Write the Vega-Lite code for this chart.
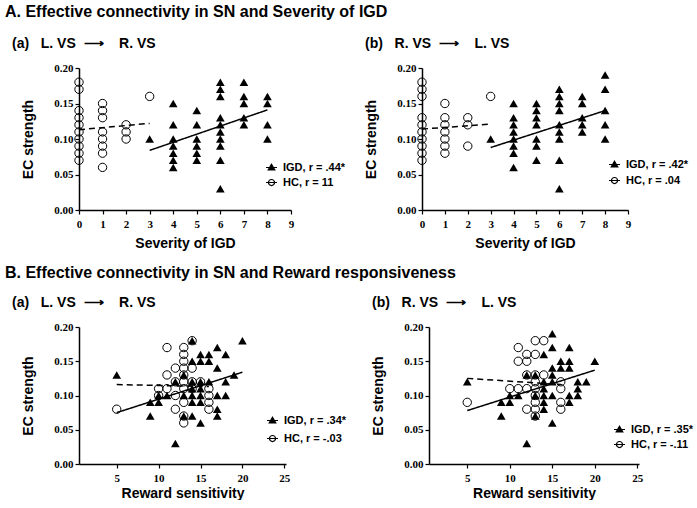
{
  "$schema": "https://vega.github.io/schema/vega-lite/v6.json",
  "padding": {"left": 5, "top": 4, "right": 0, "bottom": 0},
  "background": "white",
  "config": {
    "view": {"stroke": null},
    "font": "Liberation Sans",
    "axis": {
      "grid": false,
      "domainColor": "black",
      "domainWidth": 1.5,
      "tickColor": "black",
      "tickWidth": 1.2,
      "tickSize": 4,
      "labelFont": "Liberation Serif",
      "labelFontWeight": "bold",
      "labelFontSize": 11,
      "labelColor": "black",
      "labelOverlap": false,
      "labelSeparation": -100,
      "labelFlush": false,
      "labelBound": false,
      "titleFont": "Liberation Sans",
      "titleFontWeight": "bold",
      "titleFontSize": 14,
      "titleColor": "black"
    },
    "legend": {
      "labelFont": "Liberation Sans",
      "labelFontWeight": "bold",
      "labelFontSize": 11,
      "labelColor": "black",
      "symbolStrokeColor": "black",
      "symbolStrokeWidth": 1.2,
      "symbolOpacity": 1,
      "symbolSize": 121,
      "labelOffset": 5
    },
    "title": {"font": "Liberation Sans", "fontWeight": "bold", "color": "black"}
  },
  "datasets": {
    "pts": [
      {"p":"Aa","g":"HC","x":0,"y":0.18},{"p":"Aa","g":"HC","x":0,"y":0.17},{"p":"Aa","g":"HC","x":0,"y":0.14},{"p":"Aa","g":"HC","x":0,"y":0.13},{"p":"Aa","g":"HC","x":0,"y":0.12},{"p":"Aa","g":"HC","x":0,"y":0.11},{"p":"Aa","g":"HC","x":0,"y":0.10},{"p":"Aa","g":"HC","x":0,"y":0.09},{"p":"Aa","g":"HC","x":0,"y":0.08},{"p":"Aa","g":"HC","x":0,"y":0.07},
      {"p":"Aa","g":"HC","x":1,"y":0.15},{"p":"Aa","g":"HC","x":1,"y":0.14},{"p":"Aa","g":"HC","x":1,"y":0.13},{"p":"Aa","g":"HC","x":1,"y":0.11},{"p":"Aa","g":"HC","x":1,"y":0.10},{"p":"Aa","g":"HC","x":1,"y":0.09},{"p":"Aa","g":"HC","x":1,"y":0.08},{"p":"Aa","g":"HC","x":1,"y":0.06},
      {"p":"Aa","g":"HC","x":2,"y":0.12},{"p":"Aa","g":"HC","x":2,"y":0.11},{"p":"Aa","g":"HC","x":2,"y":0.10},{"p":"Aa","g":"HC","x":3,"y":0.16},
      {"p":"Aa","g":"IGD","x":3,"y":0.10},
      {"p":"Aa","g":"IGD","x":4,"y":0.15},{"p":"Aa","g":"IGD","x":4,"y":0.12},{"p":"Aa","g":"IGD","x":4,"y":0.10},{"p":"Aa","g":"IGD","x":4,"y":0.09},{"p":"Aa","g":"IGD","x":4,"y":0.08},{"p":"Aa","g":"IGD","x":4,"y":0.07},{"p":"Aa","g":"IGD","x":4,"y":0.06},
      {"p":"Aa","g":"IGD","x":5,"y":0.14},{"p":"Aa","g":"IGD","x":5,"y":0.12},{"p":"Aa","g":"IGD","x":5,"y":0.10},{"p":"Aa","g":"IGD","x":5,"y":0.09},{"p":"Aa","g":"IGD","x":5,"y":0.08},{"p":"Aa","g":"IGD","x":5,"y":0.07},
      {"p":"Aa","g":"IGD","x":6,"y":0.18},{"p":"Aa","g":"IGD","x":6,"y":0.17},{"p":"Aa","g":"IGD","x":6,"y":0.16},{"p":"Aa","g":"IGD","x":6,"y":0.13},{"p":"Aa","g":"IGD","x":6,"y":0.12},{"p":"Aa","g":"IGD","x":6,"y":0.11},{"p":"Aa","g":"IGD","x":6,"y":0.10},{"p":"Aa","g":"IGD","x":6,"y":0.09},{"p":"Aa","g":"IGD","x":6,"y":0.07},{"p":"Aa","g":"IGD","x":6,"y":0.03},
      {"p":"Aa","g":"IGD","x":7,"y":0.18},{"p":"Aa","g":"IGD","x":7,"y":0.16},{"p":"Aa","g":"IGD","x":7,"y":0.15},{"p":"Aa","g":"IGD","x":7,"y":0.13},{"p":"Aa","g":"IGD","x":7,"y":0.12},
      {"p":"Aa","g":"IGD","x":8,"y":0.16},{"p":"Aa","g":"IGD","x":8,"y":0.15},{"p":"Aa","g":"IGD","x":8,"y":0.12},{"p":"Aa","g":"IGD","x":8,"y":0.10},

      {"p":"Ab","g":"HC","x":0,"y":0.18},{"p":"Ab","g":"HC","x":0,"y":0.17},{"p":"Ab","g":"HC","x":0,"y":0.16},{"p":"Ab","g":"HC","x":0,"y":0.13},{"p":"Ab","g":"HC","x":0,"y":0.12},{"p":"Ab","g":"HC","x":0,"y":0.11},{"p":"Ab","g":"HC","x":0,"y":0.10},{"p":"Ab","g":"HC","x":0,"y":0.09},{"p":"Ab","g":"HC","x":0,"y":0.08},{"p":"Ab","g":"HC","x":0,"y":0.07},
      {"p":"Ab","g":"HC","x":1,"y":0.15},{"p":"Ab","g":"HC","x":1,"y":0.13},{"p":"Ab","g":"HC","x":1,"y":0.12},{"p":"Ab","g":"HC","x":1,"y":0.11},{"p":"Ab","g":"HC","x":1,"y":0.10},{"p":"Ab","g":"HC","x":1,"y":0.09},{"p":"Ab","g":"HC","x":1,"y":0.08},
      {"p":"Ab","g":"HC","x":2,"y":0.13},{"p":"Ab","g":"HC","x":2,"y":0.12},{"p":"Ab","g":"HC","x":2,"y":0.09},{"p":"Ab","g":"HC","x":3,"y":0.16},
      {"p":"Ab","g":"IGD","x":3,"y":0.10},
      {"p":"Ab","g":"IGD","x":4,"y":0.15},{"p":"Ab","g":"IGD","x":4,"y":0.13},{"p":"Ab","g":"IGD","x":4,"y":0.12},{"p":"Ab","g":"IGD","x":4,"y":0.11},{"p":"Ab","g":"IGD","x":4,"y":0.10},{"p":"Ab","g":"IGD","x":4,"y":0.09},{"p":"Ab","g":"IGD","x":4,"y":0.08},{"p":"Ab","g":"IGD","x":4,"y":0.06},
      {"p":"Ab","g":"IGD","x":5,"y":0.15},{"p":"Ab","g":"IGD","x":5,"y":0.14},{"p":"Ab","g":"IGD","x":5,"y":0.13},{"p":"Ab","g":"IGD","x":5,"y":0.12},{"p":"Ab","g":"IGD","x":5,"y":0.10},{"p":"Ab","g":"IGD","x":5,"y":0.09},{"p":"Ab","g":"IGD","x":5,"y":0.07},
      {"p":"Ab","g":"IGD","x":6,"y":0.17},{"p":"Ab","g":"IGD","x":6,"y":0.16},{"p":"Ab","g":"IGD","x":6,"y":0.15},{"p":"Ab","g":"IGD","x":6,"y":0.14},{"p":"Ab","g":"IGD","x":6,"y":0.12},{"p":"Ab","g":"IGD","x":6,"y":0.11},{"p":"Ab","g":"IGD","x":6,"y":0.10},{"p":"Ab","g":"IGD","x":6,"y":0.07},{"p":"Ab","g":"IGD","x":6,"y":0.03},
      {"p":"Ab","g":"IGD","x":7,"y":0.16},{"p":"Ab","g":"IGD","x":7,"y":0.15},{"p":"Ab","g":"IGD","x":7,"y":0.13},{"p":"Ab","g":"IGD","x":7,"y":0.12},{"p":"Ab","g":"IGD","x":7,"y":0.11},
      {"p":"Ab","g":"IGD","x":8,"y":0.19},{"p":"Ab","g":"IGD","x":8,"y":0.17},{"p":"Ab","g":"IGD","x":8,"y":0.14},{"p":"Ab","g":"IGD","x":8,"y":0.12},{"p":"Ab","g":"IGD","x":8,"y":0.10},

      {"p":"Ba","g":"HC","x":5,"y":0.08},{"p":"Ba","g":"HC","x":10,"y":0.11},{"p":"Ba","g":"HC","x":10,"y":0.10},{"p":"Ba","g":"HC","x":11,"y":0.17},{"p":"Ba","g":"HC","x":11,"y":0.13},{"p":"Ba","g":"HC","x":11,"y":0.11},
      {"p":"Ba","g":"HC","x":12,"y":0.14},{"p":"Ba","g":"HC","x":12,"y":0.12},{"p":"Ba","g":"HC","x":12,"y":0.10},{"p":"Ba","g":"HC","x":12,"y":0.08},
      {"p":"Ba","g":"HC","x":13,"y":0.17},{"p":"Ba","g":"HC","x":13,"y":0.16},{"p":"Ba","g":"HC","x":13,"y":0.15},{"p":"Ba","g":"HC","x":13,"y":0.14},{"p":"Ba","g":"HC","x":13,"y":0.13},{"p":"Ba","g":"HC","x":13,"y":0.12},{"p":"Ba","g":"HC","x":13,"y":0.11},{"p":"Ba","g":"HC","x":13,"y":0.09},{"p":"Ba","g":"HC","x":13,"y":0.07},{"p":"Ba","g":"HC","x":13,"y":0.06},
      {"p":"Ba","g":"HC","x":14,"y":0.18},{"p":"Ba","g":"HC","x":14,"y":0.14},{"p":"Ba","g":"HC","x":14,"y":0.12},{"p":"Ba","g":"HC","x":14,"y":0.11},{"p":"Ba","g":"HC","x":15,"y":0.12},
      {"p":"Ba","g":"HC","x":16,"y":0.11},{"p":"Ba","g":"HC","x":16,"y":0.10},{"p":"Ba","g":"HC","x":16,"y":0.09},{"p":"Ba","g":"HC","x":16,"y":0.08},
      {"p":"Ba","g":"IGD","x":5,"y":0.13},{"p":"Ba","g":"IGD","x":9,"y":0.09},{"p":"Ba","g":"IGD","x":9,"y":0.07},{"p":"Ba","g":"IGD","x":10,"y":0.10},{"p":"Ba","g":"IGD","x":10,"y":0.09},{"p":"Ba","g":"IGD","x":11,"y":0.10},
      {"p":"Ba","g":"IGD","x":12,"y":0.12},{"p":"Ba","g":"IGD","x":12,"y":0.03},{"p":"Ba","g":"IGD","x":13,"y":0.13},{"p":"Ba","g":"IGD","x":13,"y":0.10},{"p":"Ba","g":"IGD","x":13,"y":0.07},
      {"p":"Ba","g":"IGD","x":14,"y":0.18},{"p":"Ba","g":"IGD","x":14,"y":0.15},{"p":"Ba","g":"IGD","x":14,"y":0.12},{"p":"Ba","g":"IGD","x":14,"y":0.11},{"p":"Ba","g":"IGD","x":14,"y":0.10},{"p":"Ba","g":"IGD","x":14,"y":0.09},{"p":"Ba","g":"IGD","x":14,"y":0.07},
      {"p":"Ba","g":"IGD","x":15,"y":0.16},{"p":"Ba","g":"IGD","x":15,"y":0.15},{"p":"Ba","g":"IGD","x":15,"y":0.12},{"p":"Ba","g":"IGD","x":15,"y":0.11},{"p":"Ba","g":"IGD","x":15,"y":0.10},{"p":"Ba","g":"IGD","x":15,"y":0.09},{"p":"Ba","g":"IGD","x":15,"y":0.06},
      {"p":"Ba","g":"IGD","x":16,"y":0.16},{"p":"Ba","g":"IGD","x":16,"y":0.15},{"p":"Ba","g":"IGD","x":16,"y":0.12},
      {"p":"Ba","g":"IGD","x":17,"y":0.17},{"p":"Ba","g":"IGD","x":17,"y":0.14},{"p":"Ba","g":"IGD","x":17,"y":0.10},{"p":"Ba","g":"IGD","x":17,"y":0.08},{"p":"Ba","g":"IGD","x":17,"y":0.07},
      {"p":"Ba","g":"IGD","x":18,"y":0.16},{"p":"Ba","g":"IGD","x":18,"y":0.12},{"p":"Ba","g":"IGD","x":18,"y":0.10},{"p":"Ba","g":"IGD","x":19,"y":0.13},{"p":"Ba","g":"IGD","x":20,"y":0.18},

      {"p":"Bb","g":"HC","x":5,"y":0.09},{"p":"Bb","g":"HC","x":13,"y":0.18},{"p":"Bb","g":"HC","x":14,"y":0.18},{"p":"Bb","g":"HC","x":11,"y":0.17},{"p":"Bb","g":"HC","x":12,"y":0.16},{"p":"Bb","g":"HC","x":13,"y":0.16},
      {"p":"Bb","g":"HC","x":11,"y":0.15},{"p":"Bb","g":"HC","x":12,"y":0.15},{"p":"Bb","g":"HC","x":12,"y":0.13},{"p":"Bb","g":"HC","x":13,"y":0.13},{"p":"Bb","g":"HC","x":14,"y":0.13},
      {"p":"Bb","g":"HC","x":13,"y":0.12},{"p":"Bb","g":"HC","x":16,"y":0.12},{"p":"Bb","g":"HC","x":10,"y":0.11},{"p":"Bb","g":"HC","x":11,"y":0.11},{"p":"Bb","g":"HC","x":12,"y":0.11},{"p":"Bb","g":"HC","x":13,"y":0.11},{"p":"Bb","g":"HC","x":16,"y":0.11},
      {"p":"Bb","g":"HC","x":13,"y":0.10},{"p":"Bb","g":"HC","x":13,"y":0.09},{"p":"Bb","g":"HC","x":16,"y":0.09},{"p":"Bb","g":"HC","x":12,"y":0.08},{"p":"Bb","g":"HC","x":13,"y":0.08},{"p":"Bb","g":"HC","x":16,"y":0.08},{"p":"Bb","g":"HC","x":13,"y":0.07},
      {"p":"Bb","g":"IGD","x":5,"y":0.12},{"p":"Bb","g":"IGD","x":15,"y":0.19},{"p":"Bb","g":"IGD","x":15,"y":0.17},{"p":"Bb","g":"IGD","x":17,"y":0.17},{"p":"Bb","g":"IGD","x":14,"y":0.16},
      {"p":"Bb","g":"IGD","x":16,"y":0.15},{"p":"Bb","g":"IGD","x":17,"y":0.15},{"p":"Bb","g":"IGD","x":20,"y":0.15},{"p":"Bb","g":"IGD","x":15,"y":0.14},{"p":"Bb","g":"IGD","x":16,"y":0.14},{"p":"Bb","g":"IGD","x":17,"y":0.14},
      {"p":"Bb","g":"IGD","x":12,"y":0.13},{"p":"Bb","g":"IGD","x":13,"y":0.13},{"p":"Bb","g":"IGD","x":15,"y":0.13},{"p":"Bb","g":"IGD","x":14,"y":0.12},{"p":"Bb","g":"IGD","x":15,"y":0.12},{"p":"Bb","g":"IGD","x":18,"y":0.12},{"p":"Bb","g":"IGD","x":19,"y":0.12},
      {"p":"Bb","g":"IGD","x":14,"y":0.11},{"p":"Bb","g":"IGD","x":18,"y":0.11},
      {"p":"Bb","g":"IGD","x":10,"y":0.10},{"p":"Bb","g":"IGD","x":11,"y":0.10},{"p":"Bb","g":"IGD","x":13,"y":0.10},{"p":"Bb","g":"IGD","x":14,"y":0.10},{"p":"Bb","g":"IGD","x":15,"y":0.10},{"p":"Bb","g":"IGD","x":17,"y":0.10},{"p":"Bb","g":"IGD","x":18,"y":0.10},
      {"p":"Bb","g":"IGD","x":9,"y":0.09},{"p":"Bb","g":"IGD","x":10,"y":0.09},{"p":"Bb","g":"IGD","x":14,"y":0.09},{"p":"Bb","g":"IGD","x":17,"y":0.09},{"p":"Bb","g":"IGD","x":14,"y":0.08},
      {"p":"Bb","g":"IGD","x":9,"y":0.07},{"p":"Bb","g":"IGD","x":13,"y":0.07},{"p":"Bb","g":"IGD","x":15,"y":0.06},{"p":"Bb","g":"IGD","x":12,"y":0.03}
    ],
    "fit": [
      {"p":"Aa","g":"IGD","label":"IGD, r = .44*","x":3,"y":0.084},{"p":"Aa","g":"IGD","label":"IGD, r = .44*","x":8,"y":0.141},
      {"p":"Aa","g":"HC","label":"HC, r = 11","x":0,"y":0.113},{"p":"Aa","g":"HC","label":"HC, r = 11","x":3,"y":0.122},
      {"p":"Ab","g":"IGD","label":"IGD, r = .42*","x":3,"y":0.088},{"p":"Ab","g":"IGD","label":"IGD, r = .42*","x":8,"y":0.140},
      {"p":"Ab","g":"HC","label":"HC, r = .04","x":0,"y":0.114},{"p":"Ab","g":"HC","label":"HC, r = .04","x":3,"y":0.121},
      {"p":"Ba","g":"IGD","label":"IGD, r = .34*","x":5,"y":0.075},{"p":"Ba","g":"IGD","label":"IGD, r = .34*","x":20,"y":0.134},
      {"p":"Ba","g":"HC","label":"HC, r = -.03","x":5,"y":0.116},{"p":"Ba","g":"HC","label":"HC, r = -.03","x":16,"y":0.113},
      {"p":"Bb","g":"IGD","label":"IGD, r = .35*","x":5,"y":0.078},{"p":"Bb","g":"IGD","label":"IGD, r = .35*","x":20,"y":0.137},
      {"p":"Bb","g":"HC","label":"HC, r = -.11","x":5,"y":0.125},{"p":"Bb","g":"HC","label":"HC, r = -.11","x":16,"y":0.116}
    ]
  },
  "spacing": 15,
  "resolve": {"scale": {"shape": "independent", "fill": "independent", "stroke": "independent", "strokeDash": "independent"}, "legend": {"shape": "independent", "fill": "independent", "stroke": "independent"}},
  "vconcat": [
    {
      "title": {"text": "A. Effective connectivity in SN and Severity of IGD", "anchor": "start", "fontSize": 16, "offset": 17, "frame": "bounds", "dx": -7},
      "spacing": 18,
      "resolve": {"scale": {"shape": "independent", "fill": "independent", "stroke": "independent", "strokeDash": "independent"}, "legend": {"shape": "independent", "fill": "independent", "stroke": "independent"}},
      "hconcat": [
        {
          "title": {"text": "(a)\u00a0\u00a0 L. VS\u00a0 ⟶\u00a0\u00a0\u00a0 R. VS", "anchor": "start", "fontSize": 14, "offset": 11, "frame": "group", "dx": -67},
          "width": 212, "height": 142,
          "encoding": {
            "x": {"field": "x", "type": "quantitative", "scale": {"domain": [0, 9], "nice": false, "zero": false}, "axis": {"values": [0,1,2,3,4,5,6,7,8,9], "format": "d", "title": "Severity of IGD", "titlePadding": 7, "labelPadding": 4, "labelOverlap": false, "labelSeparation": -100}},
            "y": {"field": "y", "type": "quantitative", "scale": {"domain": [0, 0.2], "nice": false}, "axis": {"values": [0, 0.05, 0.1, 0.15, 0.2], "format": ".2f", "title": "EC strength", "titlePadding": 18, "labelOverlap": false, "labelSeparation": -100}}
          },
          "layer": [
            {"data": {"name": "pts"}, "transform": [{"filter": {"and": [{"field": "p", "equal": "Aa"}, {"field": "g", "equal": "HC"}]}}],
             "mark": {"type": "point", "shape": "circle", "filled": false, "stroke": "black", "strokeWidth": 1, "size": 70, "opacity": 1}},
            {"data": {"name": "pts"}, "transform": [{"filter": {"and": [{"field": "p", "equal": "Aa"}, {"field": "g", "equal": "IGD"}]}}],
             "mark": {"type": "point", "shape": "triangle-up", "filled": true, "color": "black", "size": 75, "opacity": 1}},
            {"data": {"name": "fit"}, "transform": [{"filter": {"field": "p", "equal": "Aa"}}],
             "mark": {"type": "line", "color": "black", "strokeWidth": 1.5},
             "encoding": {"detail": {"field": "g"},
               "strokeDash": {"field": "g", "type": "nominal", "scale": {"domain": ["IGD", "HC"], "range": [[1, 0], [6, 4]]}, "legend": null}}},
            {"data": {"name": "fit"}, "transform": [{"filter": {"field": "p", "equal": "Aa"}}],
             "mark": {"type": "point", "opacity": 0, "filled": true, "strokeWidth": 1.2},
             "encoding": {
               "shape": {"field": "label", "type": "nominal", "scale": {"domain": ["IGD, r = .44*", "HC, r = 11"], "range": ["M-1,0H1M0,-0.6L0.6,0.45L-0.6,0.45Z", "M-1,0H1M-0.55,0A0.55,0.55 0 1,0 0.55,0A0.55,0.55 0 1,0 -0.55,0Z"]},
                 "legend": {"orient": "none", "legendX": 186, "legendY": 93, "title": null, "rowPadding": 3}},
               "fill": {"field": "label", "type": "nominal", "scale": {"domain": ["IGD, r = .44*", "HC, r = 11"], "range": ["black", "white"]},
                 "legend": {"orient": "none", "legendX": 186, "legendY": 93, "title": null, "rowPadding": 3}},
               "stroke": {"field": "label", "type": "nominal", "scale": {"domain": ["IGD, r = .44*", "HC, r = 11"], "range": ["black", "black"]},
                 "legend": {"orient": "none", "legendX": 186, "legendY": 93, "title": null, "rowPadding": 3}}}}
          ]
        },
        {
          "title": {"text": "(b)\u00a0\u00a0 R. VS\u00a0 ⟶\u00a0\u00a0\u00a0 L. VS", "anchor": "start", "fontSize": 14, "offset": 11, "frame": "group", "dx": -57},
          "width": 206, "height": 142,
          "encoding": {
            "x": {"field": "x", "type": "quantitative", "scale": {"domain": [0, 9], "nice": false, "zero": false}, "axis": {"values": [0,1,2,3,4,5,6,7,8,9], "format": "d", "title": "Severity of IGD", "titlePadding": 7, "labelPadding": 4, "labelOverlap": false, "labelSeparation": -100}},
            "y": {"field": "y", "type": "quantitative", "scale": {"domain": [0, 0.2], "nice": false}, "axis": {"values": [0, 0.05, 0.1, 0.15, 0.2], "format": ".2f", "title": "EC strength", "titlePadding": 18, "labelOverlap": false, "labelSeparation": -100}}
          },
          "layer": [
            {"data": {"name": "pts"}, "transform": [{"filter": {"and": [{"field": "p", "equal": "Ab"}, {"field": "g", "equal": "HC"}]}}],
             "mark": {"type": "point", "shape": "circle", "filled": false, "stroke": "black", "strokeWidth": 1, "size": 70, "opacity": 1}},
            {"data": {"name": "pts"}, "transform": [{"filter": {"and": [{"field": "p", "equal": "Ab"}, {"field": "g", "equal": "IGD"}]}}],
             "mark": {"type": "point", "shape": "triangle-up", "filled": true, "color": "black", "size": 75, "opacity": 1}},
            {"data": {"name": "fit"}, "transform": [{"filter": {"field": "p", "equal": "Ab"}}],
             "mark": {"type": "line", "color": "black", "strokeWidth": 1.5},
             "encoding": {"detail": {"field": "g"},
               "strokeDash": {"field": "g", "type": "nominal", "scale": {"domain": ["IGD", "HC"], "range": [[1, 0], [6, 4]]}, "legend": null}}},
            {"data": {"name": "fit"}, "transform": [{"filter": {"field": "p", "equal": "Ab"}}],
             "mark": {"type": "point", "opacity": 0, "filled": true, "strokeWidth": 1.2},
             "encoding": {
               "shape": {"field": "label", "type": "nominal", "scale": {"domain": ["IGD, r = .42*", "HC, r = .04"], "range": ["M-1,0H1M0,-0.6L0.6,0.45L-0.6,0.45Z", "M-1,0H1M-0.55,0A0.55,0.55 0 1,0 0.55,0A0.55,0.55 0 1,0 -0.55,0Z"]},
                 "legend": {"orient": "none", "legendX": 186, "legendY": 90, "title": null, "rowPadding": 4}},
               "fill": {"field": "label", "type": "nominal", "scale": {"domain": ["IGD, r = .42*", "HC, r = .04"], "range": ["black", "white"]},
                 "legend": {"orient": "none", "legendX": 186, "legendY": 90, "title": null, "rowPadding": 4}},
               "stroke": {"field": "label", "type": "nominal", "scale": {"domain": ["IGD, r = .42*", "HC, r = .04"], "range": ["black", "black"]},
                 "legend": {"orient": "none", "legendX": 186, "legendY": 90, "title": null, "rowPadding": 4}}}}
          ]
        }
      ]
    },
    {
      "title": {"text": "B. Effective connectivity in SN and Reward responsiveness", "anchor": "start", "fontSize": 16, "offset": 15, "frame": "bounds", "dx": -7},
      "spacing": 24,
      "resolve": {"scale": {"shape": "independent", "fill": "independent", "stroke": "independent", "strokeDash": "independent"}, "legend": {"shape": "independent", "fill": "independent", "stroke": "independent"}},
      "hconcat": [
        {
          "title": {"text": "(a)\u00a0\u00a0 L. VS\u00a0 ⟶\u00a0\u00a0\u00a0 R. VS", "anchor": "start", "fontSize": 14, "offset": 11, "frame": "group", "dx": -67},
          "width": 207, "height": 137,
          "encoding": {
            "x": {"field": "x", "type": "quantitative", "scale": {"domain": [0.5, 25.2], "nice": false, "zero": false}, "axis": {"values": [5, 10, 15, 20, 25], "format": "d", "title": "Reward sensitivity", "titlePadding": 3, "labelPadding": 4, "labelOverlap": false, "labelSeparation": -100}},
            "y": {"field": "y", "type": "quantitative", "scale": {"domain": [0, 0.2], "nice": false}, "axis": {"values": [0, 0.05, 0.1, 0.15, 0.2], "format": ".2f", "title": "EC strength", "titlePadding": 18, "labelOverlap": false, "labelSeparation": -100}}
          },
          "layer": [
            {"data": {"name": "pts"}, "transform": [{"filter": {"and": [{"field": "p", "equal": "Ba"}, {"field": "g", "equal": "HC"}]}}],
             "mark": {"type": "point", "shape": "circle", "filled": false, "stroke": "black", "strokeWidth": 1, "size": 70, "opacity": 1}},
            {"data": {"name": "pts"}, "transform": [{"filter": {"and": [{"field": "p", "equal": "Ba"}, {"field": "g", "equal": "IGD"}]}}],
             "mark": {"type": "point", "shape": "triangle-up", "filled": true, "color": "black", "size": 75, "opacity": 1}},
            {"data": {"name": "fit"}, "transform": [{"filter": {"field": "p", "equal": "Ba"}}],
             "mark": {"type": "line", "color": "black", "strokeWidth": 1.5},
             "encoding": {"detail": {"field": "g"},
               "strokeDash": {"field": "g", "type": "nominal", "scale": {"domain": ["IGD", "HC"], "range": [[1, 0], [6, 4]]}, "legend": null}}},
            {"data": {"name": "fit"}, "transform": [{"filter": {"field": "p", "equal": "Ba"}}],
             "mark": {"type": "point", "opacity": 0, "filled": true, "strokeWidth": 1.2},
             "encoding": {
               "shape": {"field": "label", "type": "nominal", "scale": {"domain": ["IGD, r = .34*", "HC, r = -.03"], "range": ["M-1,0H1M0,-0.6L0.6,0.45L-0.6,0.45Z", "M-1,0H1M-0.55,0A0.55,0.55 0 1,0 0.55,0A0.55,0.55 0 1,0 -0.55,0Z"]},
                 "legend": {"orient": "none", "legendX": 187, "legendY": 87, "title": null, "rowPadding": 6}},
               "fill": {"field": "label", "type": "nominal", "scale": {"domain": ["IGD, r = .34*", "HC, r = -.03"], "range": ["black", "white"]},
                 "legend": {"orient": "none", "legendX": 187, "legendY": 87, "title": null, "rowPadding": 6}},
               "stroke": {"field": "label", "type": "nominal", "scale": {"domain": ["IGD, r = .34*", "HC, r = -.03"], "range": ["black", "black"]},
                 "legend": {"orient": "none", "legendX": 187, "legendY": 87, "title": null, "rowPadding": 6}}}}
          ]
        },
        {
          "title": {"text": "(b)\u00a0\u00a0 R. VS\u00a0 ⟶\u00a0\u00a0\u00a0 L. VS", "anchor": "start", "fontSize": 14, "offset": 11, "frame": "group", "dx": -57},
          "width": 210, "height": 137,
          "encoding": {
            "x": {"field": "x", "type": "quantitative", "scale": {"domain": [0.5, 25.2], "nice": false, "zero": false}, "axis": {"values": [5, 10, 15, 20, 25], "format": "d", "title": "Reward sensitivity", "titlePadding": 3, "labelPadding": 4, "labelOverlap": false, "labelSeparation": -100}},
            "y": {"field": "y", "type": "quantitative", "scale": {"domain": [0, 0.2], "nice": false}, "axis": {"values": [0, 0.05, 0.1, 0.15, 0.2], "format": ".2f", "title": "EC strength", "titlePadding": 18, "labelOverlap": false, "labelSeparation": -100}}
          },
          "layer": [
            {"data": {"name": "pts"}, "transform": [{"filter": {"and": [{"field": "p", "equal": "Bb"}, {"field": "g", "equal": "HC"}]}}],
             "mark": {"type": "point", "shape": "circle", "filled": false, "stroke": "black", "strokeWidth": 1, "size": 70, "opacity": 1}},
            {"data": {"name": "pts"}, "transform": [{"filter": {"and": [{"field": "p", "equal": "Bb"}, {"field": "g", "equal": "IGD"}]}}],
             "mark": {"type": "point", "shape": "triangle-up", "filled": true, "color": "black", "size": 75, "opacity": 1}},
            {"data": {"name": "fit"}, "transform": [{"filter": {"field": "p", "equal": "Bb"}}],
             "mark": {"type": "line", "color": "black", "strokeWidth": 1.5},
             "encoding": {"detail": {"field": "g"},
               "strokeDash": {"field": "g", "type": "nominal", "scale": {"domain": ["IGD", "HC"], "range": [[1, 0], [6, 4]]}, "legend": null}}},
            {"data": {"name": "fit"}, "transform": [{"filter": {"field": "p", "equal": "Bb"}}],
             "mark": {"type": "point", "opacity": 0, "filled": true, "strokeWidth": 1.2},
             "encoding": {
               "shape": {"field": "label", "type": "nominal", "scale": {"domain": ["IGD, r = .35*", "HC, r = -.11"], "range": ["M-1,0H1M0,-0.6L0.6,0.45L-0.6,0.45Z", "M-1,0H1M-0.55,0A0.55,0.55 0 1,0 0.55,0A0.55,0.55 0 1,0 -0.55,0Z"]},
                 "legend": {"orient": "none", "legendX": 184, "legendY": 96, "title": null, "rowPadding": 3}},
               "fill": {"field": "label", "type": "nominal", "scale": {"domain": ["IGD, r = .35*", "HC, r = -.11"], "range": ["black", "white"]},
                 "legend": {"orient": "none", "legendX": 184, "legendY": 96, "title": null, "rowPadding": 3}},
               "stroke": {"field": "label", "type": "nominal", "scale": {"domain": ["IGD, r = .35*", "HC, r = -.11"], "range": ["black", "black"]},
                 "legend": {"orient": "none", "legendX": 184, "legendY": 96, "title": null, "rowPadding": 3}}}}
          ]
        }
      ]
    }
  ]
}
